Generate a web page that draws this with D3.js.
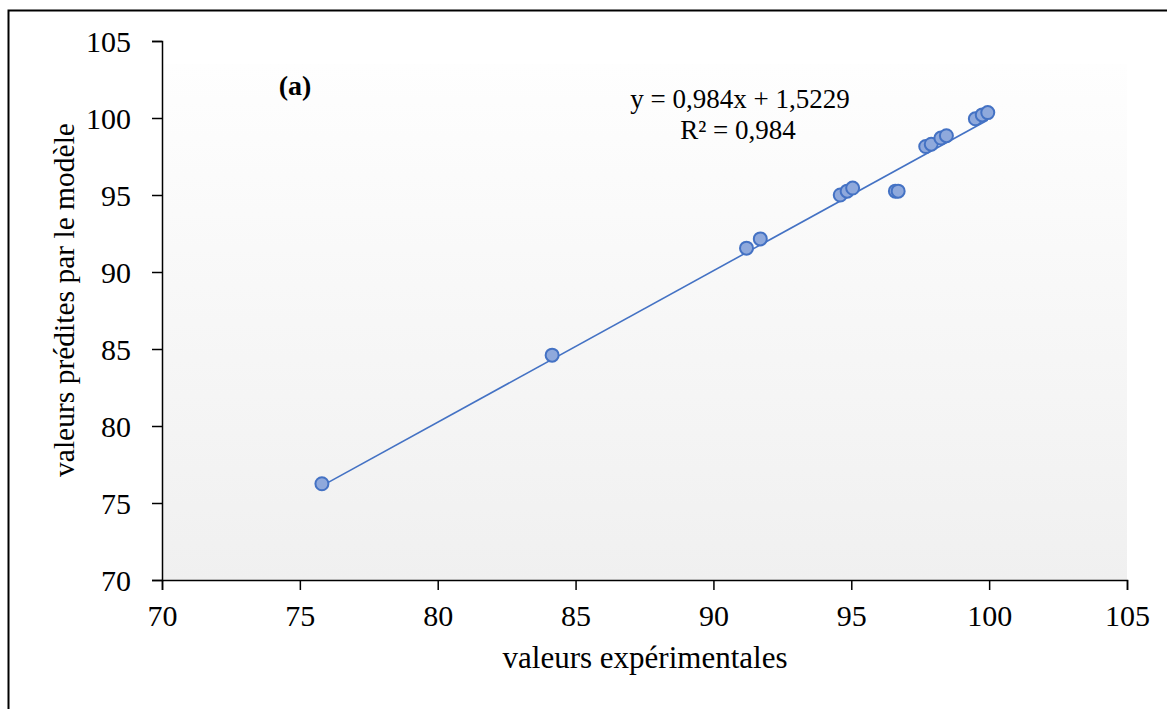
<!DOCTYPE html>
<html>
<head>
<meta charset="utf-8">
<script src="https://cdn.jsdelivr.net/npm/d3@7"></script>
<style>
  html, body { margin: 0; padding: 0; background: #fff; }
  svg { display: block; }
  svg text { font-family: "Liberation Serif", "Times New Roman", serif; }
</style>
</head>
<body>
<div id="chart"></div>
<script>
const experimental = [75.8, 84.15, 91.2, 91.7, 94.6, 94.85, 95.05, 96.6, 96.7, 97.7, 97.9, 98.25, 98.45, 99.5, 99.75, 99.95];
const predicted    = [76.25, 84.6, 91.55, 92.15, 95.0, 95.25, 95.45, 95.25, 95.25, 98.15, 98.3, 98.7, 98.85, 99.95, 100.2, 100.35];
const xTicks = [70, 75, 80, 85, 90, 95, 100, 105];
const yTicks = [70, 75, 80, 85, 90, 95, 100, 105];
const slope = 0.984;
const intercept = 1.5229;

const width = 1167, height = 709;
const margin = { top: 41, right: 40, bottom: 129, left: 162 };
const innerW = 1127 - margin.left;
const innerH = 580 - margin.top;

const svg = d3.select('#chart').append('svg')
    .attr('width', width)
    .attr('height', height);

// outer frame (only top and left edges are in view)
svg.append('rect')
    .attr('x', 8.5).attr('y', 10.5)
    .attr('width', width + 20).attr('height', height + 20)
    .attr('fill', 'none')
    .attr('stroke', '#000')
    .attr('stroke-width', 2);

const defs = svg.append('defs');
const grad = defs.append('linearGradient')
    .attr('id', 'plotBg')
    .attr('x1', 0).attr('y1', 0).attr('x2', 0).attr('y2', 1);
grad.append('stop').attr('offset', '0%').attr('stop-color', '#fefefe');
grad.append('stop').attr('offset', '100%').attr('stop-color', '#f0f0f0');

const g = svg.append('g')
    .attr('transform', `translate(${margin.left},${margin.top})`);

const x = d3.scaleLinear().domain([70, 105]).range([0, innerW]);
const y = d3.scaleLinear().domain([70, 105]).range([innerH, 0]);

// plot area fill
g.append('rect')
    .attr('x', 0).attr('y', 23)
    .attr('width', innerW).attr('height', innerH - 23)
    .attr('fill', 'url(#plotBg)');

// axes
const xAxis = g.append('g')
    .attr('transform', `translate(0,${innerH})`)
    .call(d3.axisBottom(x).tickValues(xTicks).tickSize(10).tickPadding(15));
const yAxis = g.append('g')
    .call(d3.axisLeft(y).tickValues(yTicks).tickSize(10).tickPadding(21));

[xAxis, yAxis].forEach(a => {
    a.attr('font-family', null).attr('font-size', null);
    a.select('.domain').attr('stroke', '#000').attr('stroke-width', 1.5);
    a.selectAll('.tick line').attr('stroke', '#000').attr('stroke-width', 1.5);
    a.selectAll('.tick text')
        .style('font-family', '"Liberation Serif", serif')
        .style('font-size', '30px')
        .attr('fill', '#000');
});
yAxis.selectAll('.tick text').attr('dy', '0.34em');

// trendline
const xMin = d3.min(experimental), xMax = d3.max(experimental);
const trend = [xMin, xMax].map(v => ({ x: v, y: slope * v + intercept }));
g.append('path')
    .datum(trend)
    .attr('fill', 'none')
    .attr('stroke', '#4472c4')
    .attr('stroke-width', 1.6)
    .attr('d', d3.line().x(d => x(d.x)).y(d => y(d.y)));

// points
g.selectAll('circle.pt')
    .data(experimental.map((v, i) => ({ x: v, y: predicted[i] })))
    .join('circle')
    .attr('class', 'pt')
    .attr('cx', d => x(d.x))
    .attr('cy', d => y(d.y))
    .attr('r', 6.5)
    .attr('fill', '#8fa9dc')
    .attr('stroke', '#4472c4')
    .attr('stroke-width', 2);

// equation label
const eq = svg.append('text')
    .attr('text-anchor', 'middle')
    .style('font-size', '27px')
    .attr('fill', '#000');
eq.append('tspan').attr('x', 740).attr('y', 108).text('y = 0,984x + 1,5229');
eq.append('tspan').attr('x', 738).attr('y', 139).text('R² = 0,984');

// panel label
svg.append('text')
    .attr('x', 295).attr('y', 95)
    .attr('text-anchor', 'middle')
    .style('font-size', '28px')
    .attr('font-weight', 'bold')
    .text('(a)');

// axis titles
svg.append('text')
    .attr('x', 645).attr('y', 668)
    .attr('text-anchor', 'middle')
    .style('font-size', '31px')
    .text('valeurs expérimentales');

svg.append('text')
    .attr('transform', 'translate(74,300) rotate(-90)')
    .attr('text-anchor', 'middle')
    .style('font-size', '29.5px')
    .text('valeurs prédites par le modèle');
</script>
</body>
</html>
